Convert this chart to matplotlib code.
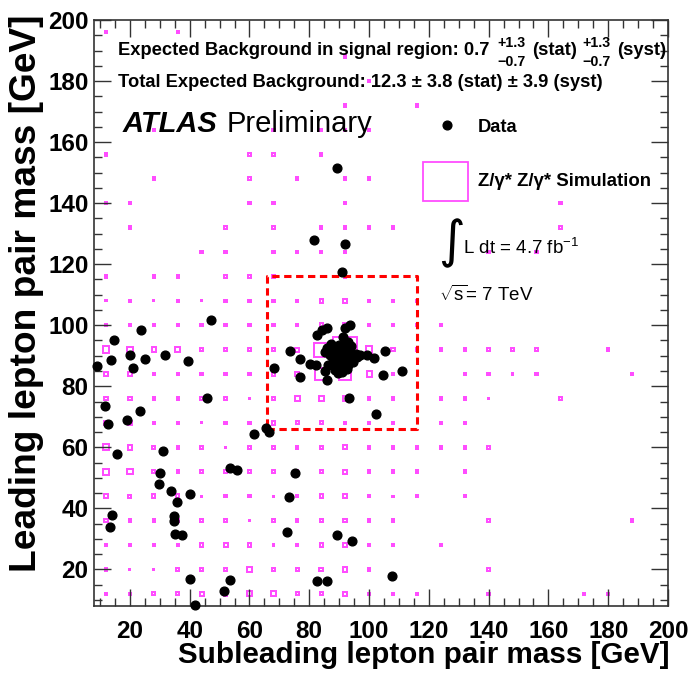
import numpy as np
import matplotlib
matplotlib.use("Agg")
import matplotlib.pyplot as plt
from matplotlib.patches import Rectangle
from matplotlib.ticker import MultipleLocator

plt.rcParams['font.family'] = ['Liberation Sans', 'DejaVu Sans']
plt.rcParams['mathtext.fontset'] = 'custom'
plt.rcParams['mathtext.rm'] = 'Liberation Sans'
plt.rcParams['mathtext.bf'] = 'Liberation Sans:bold'
plt.rcParams['mathtext.it'] = 'Liberation Sans:italic'

# simulation histogram: 8 GeV bins from 8 to 200 GeV on both axes
bin_edges = np.arange(8, 201, 8)
bin_centres = (bin_edges[:-1] + bin_edges[1:]) / 2

# Z/gamma* Z/gamma* simulation, relative bin content (rows: leading mass 196 -> 12 GeV)
sim_counts = [
    [10, 0, 0, 10, 0, 0, 0, 0, 0, 0, 0, 0, 0, 0, 0, 0, 0, 0, 0, 0, 0, 0, 0, 0],
    [0, 0, 0, 0, 0, 0, 0, 0, 0, 0, 10, 0, 0, 0, 0, 0, 0, 0, 0, 0, 0, 0, 0, 0],
    [0, 0, 0, 0, 0, 0, 0, 0, 0, 0, 0, 10, 0, 0, 0, 0, 0, 0, 0, 0, 0, 0, 0, 0],
    [0, 0, 0, 0, 0, 0, 0, 0, 0, 0, 10, 0, 0, 10, 0, 0, 0, 0, 0, 0, 0, 0, 0, 0],
    [0, 0, 10, 0, 0, 0, 0, 10, 0, 10, 10, 10, 0, 0, 0, 0, 0, 0, 0, 0, 0, 0, 0, 0],
    [10, 0, 0, 0, 0, 0, 10, 10, 0, 10, 0, 0, 0, 0, 0, 0, 0, 0, 0, 0, 0, 0, 0, 0],
    [0, 0, 10, 0, 0, 0, 10, 0, 10, 0, 10, 10, 0, 0, 0, 0, 0, 0, 0, 0, 0, 0, 0, 0],
    [10, 10, 0, 0, 0, 0, 10, 10, 0, 0, 10, 0, 0, 0, 0, 0, 0, 0, 0, 10, 0, 0, 0, 0],
    [0, 10, 0, 0, 0, 10, 0, 10, 0, 10, 10, 10, 10, 0, 0, 0, 0, 0, 0, 10, 0, 0, 0, 0],
    [0, 0, 0, 0, 10, 10, 0, 10, 10, 10, 10, 0, 0, 0, 0, 0, 10, 0, 10, 0, 0, 0, 0, 0],
    [10, 0, 10, 10, 0, 10, 10, 10, 0, 0, 10, 0, 0, 0, 0, 0, 0, 0, 0, 0, 0, 0, 0, 0],
    [5, 10, 5, 10, 5, 10, 10, 10, 10, 14, 14, 10, 10, 10, 0, 0, 0, 0, 0, 0, 0, 0, 0, 0],
    [10, 10, 10, 10, 10, 10, 10, 10, 10, 14, 14, 10, 10, 10, 10, 0, 0, 0, 0, 0, 0, 0, 0, 0],
    [26, 22, 19, 19, 14, 10, 10, 14, 16, 57, 100, 28, 14, 10, 10, 10, 10, 10, 10, 0, 0, 10, 0, 0],
    [19, 14, 10, 10, 10, 10, 10, 14, 16, 48, 52, 21, 10, 0, 0, 10, 10, 5, 10, 0, 0, 0, 10, 0],
    [14, 14, 10, 10, 13, 10, 5, 14, 19, 22, 19, 10, 10, 0, 10, 10, 5, 0, 0, 10, 0, 0, 0, 0],
    [19, 19, 10, 10, 5, 10, 10, 14, 12, 12, 10, 10, 10, 0, 10, 10, 0, 0, 0, 0, 0, 0, 0, 0],
    [26, 19, 14, 10, 10, 5, 14, 14, 10, 14, 15, 10, 10, 10, 10, 10, 10, 0, 0, 0, 0, 0, 0, 0],
    [26, 22, 14, 10, 10, 10, 10, 13, 10, 13, 15, 10, 10, 10, 0, 10, 0, 0, 0, 0, 0, 0, 0, 0],
    [16, 13, 14, 14, 5, 10, 10, 5, 10, 14, 15, 10, 5, 10, 0, 10, 0, 0, 0, 0, 0, 0, 0, 0],
    [14, 10, 10, 13, 13, 10, 5, 10, 10, 13, 14, 10, 10, 0, 0, 0, 10, 0, 0, 0, 0, 0, 10, 0],
    [10, 10, 10, 10, 14, 17, 14, 5, 10, 13, 18, 10, 5, 0, 10, 0, 0, 0, 0, 0, 0, 0, 0, 0],
    [11, 5, 5, 12, 14, 15, 18, 13, 13, 15, 18, 10, 0, 0, 0, 0, 10, 0, 0, 0, 0, 0, 0, 0],
    [10, 10, 13, 13, 16, 16, 22, 20, 12, 13, 18, 10, 8, 8, 0, 0, 10, 0, 0, 0, 10, 10, 0, 0],
]

# data events (subleading, leading pair mass in GeV)
data_x = [9.1, 14.7, 23.7, 19.9, 13.7, 24.9, 31.6, 39.3, 21.2, 47.0, 45.9, 11.7, 23.4,
          19.1, 12.7, 61.4, 65.4, 66.7, 15.8, 31.0, 53.4, 55.9, 30.1, 29.8, 33.9, 40.2,
          35.6, 14.0, 13.2, 34.7, 34.6, 35.2, 37.6, 40.1, 53.6, 51.6, 41.8, 75.3, 73.3,
          72.4, 89.3, 94.3, 107.7, 82.7, 86.1, 89.3, 81.7, 91.9, 90.9,
          68.3, 73.4, 77.0, 80.3, 82.3, 77.0, 85.9, 105.3, 101.7, 104.8, 111.1, 93.3,
          102.3, 82.6, 84.2, 86.1, 92.0, 93.7, 91.4, 97.0, 99.2,
          86.0, 85.3, 87.0, 86.4, 85.3, 89.8, 92.0, 93.1, 94.2, 94.8, 88.7, 90.9, 92.6,
          88.5, 89.5, 90.5, 91.2, 92.3, 93.5, 90.0, 88.0, 91.8, 89.2, 92.8, 90.3, 87.8,
          93.8, 91.0, 89.0, 90.8, 94.0, 95.5, 96.0, 87.2, 88.2, 92.0, 90.1, 93.0, 91.5,
          89.5]
data_y = [86.7, 95.3, 98.5, 90.3, 88.7, 89.0, 90.4, 88.3, 85.9, 101.7, 76.2, 73.4, 71.8,
          69.1, 67.7, 64.2, 66.4, 64.9, 57.7, 58.9, 53.3, 52.5, 51.5, 48.1, 45.6, 44.8,
          42.1, 37.8, 33.9, 37.5, 35.8, 31.7, 31.3, 17.0, 16.6, 13.0, 8.2, 51.5, 43.6,
          32.4, 31.3, 29.3, 17.7, 16.1, 16.1, 151.4, 127.8, 126.5, 117.5,
          86.0, 91.4, 89.0, 87.3, 87.1, 83.1, 82.2, 91.5, 89.3, 83.8, 84.9, 76.2,
          71.0, 96.9, 98.3, 99.0, 99.0, 100.1, 96.1, 90.1, 90.1,
          92.5, 91.2, 90.1, 86.9, 84.9, 93.4, 93.9, 92.8, 90.1, 88.0, 85.2, 84.7, 85.8,
          91.5, 89.0, 90.5, 88.2, 89.6, 91.0, 87.0, 88.3, 91.7, 92.3, 87.0, 86.0, 89.6,
          89.0, 89.5, 90.5, 92.8, 93.2, 90.5, 89.6, 93.8, 87.0, 91.0, 88.6, 94.5, 86.8,
          84.3]

# signal region corners
signal_lo, signal_hi = 66, 116

W, H = 692, 674
fig = plt.figure(figsize=(W / 100, H / 100), dpi=100)
ax = fig.add_axes([94 / W, 1 - 606 / H, 574 / W, 586 / H])

pink = '#ff4dff'
max_count = max(max(r) for r in sim_counts)
bin_w = bin_edges[1] - bin_edges[0]
for row, yc in zip(sim_counts, bin_centres[::-1]):
    for c, xc in zip(row, bin_centres):
        if c <= 0:
            continue
        side = bin_w * c / max_count
        ax.add_patch(Rectangle((xc - side / 2, yc - side / 2), side, side,
                               fill=False, edgecolor=pink, linewidth=1.2,
                               antialiased=False))

ax.plot(data_x, data_y, 'o', color='black', markersize=6.3, clip_on=False, zorder=5)

# signal region box
ax.plot([signal_lo, signal_hi, signal_hi, signal_lo, signal_lo],
        [signal_lo, signal_lo, signal_hi, signal_hi, signal_lo],
        color='red', linewidth=2.2, linestyle=(0, (2.4, 1.5)), zorder=4)

ax.set_xlim(8, 200)
ax.set_ylim(8, 200)
ax.xaxis.set_major_locator(MultipleLocator(20))
ax.yaxis.set_major_locator(MultipleLocator(20))
ax.xaxis.set_minor_locator(MultipleLocator(5))
ax.yaxis.set_minor_locator(MultipleLocator(5))
ax.tick_params(which='both', direction='in', top=True, right=True, color='#333333')
ax.tick_params(which='major', length=12, width=1.0, labelsize=17.5)
ax.tick_params(which='minor', length=6, width=1.0)
ax.tick_params(axis='x', pad=10)
ax.tick_params(axis='y', pad=4)
for lab in ax.get_xticklabels() + ax.get_yticklabels():
    lab.set_fontweight('bold')
for sp in ax.spines.values():
    sp.set_linewidth(1.2)
    sp.set_color('#333333')


def fx(px):
    return px / W


def fy(py):
    return 1 - py / H


fig.text(fx(669), fy(655), 'Subleading lepton pair mass [GeV]', ha='right', va='center',
         fontsize=21.3, fontweight='bold')
fig.text(fx(27), fy(14), 'Leading lepton pair mass [GeV]', ha='center', va='top',
         rotation=90, fontsize=26.7, fontweight='bold')

# expected background lines
bold = dict(ha='left', va='baseline', fontweight='bold')
fig.text(fx(118), fy(55), 'Expected Background in signal region: 0.7', fontsize=13.2, **bold)
fig.text(fx(497), fy(46.7), '+1.3', fontsize=10.3, **bold)
fig.text(fx(497), fy(66), '\u22120.7', fontsize=10.3, **bold)
fig.text(fx(532), fy(55), '(stat)', fontsize=13.2, **bold)
fig.text(fx(582), fy(46.7), '+1.3', fontsize=10.3, **bold)
fig.text(fx(582), fy(66), '\u22120.7', fontsize=10.3, **bold)
fig.text(fx(617), fy(55), '(syst)', fontsize=13.2, **bold)
fig.text(fx(118), fy(86.7), 'Total Expected Background: 12.3 \u00b1 3.8 (stat) \u00b1 3.9 (syst)',
         fontsize=13.2, **bold)

fig.text(fx(123), fy(132.3), 'ATLAS', ha='left', va='baseline', fontsize=21,
         fontweight='bold', fontstyle='italic')
fig.text(fx(227), fy(132.3), 'Preliminary', ha='left', va='baseline', fontsize=21)

# legend
ax.plot([fx(446.7)], [fy(125.3)], 'o', color='black', markersize=6.3,
        transform=fig.transFigure, clip_on=False)
fig.text(fx(478), fy(131.7), 'Data', fontsize=13.2, **bold)
fig.patches.append(Rectangle((fx(423.3), fy(200.7)), fx(45), 39 / H, fill=False,
                             edgecolor=pink, linewidth=1.3, transform=fig.transFigure,
                             figure=fig))
fig.text(fx(478), fy(186), 'Z/\u03b3* Z/\u03b3* Simulation', fontsize=13.4, **bold)

fig.text(fx(451), fy(243), '\u222b', ha='center', va='center', fontsize=37,
         family='DejaVu Sans')
fig.text(fx(463), fy(254), r'L dt = 4.7 fb$^{-1}$', ha='left', va='baseline', fontsize=13.5)
fig.text(fx(439), fy(300.7), r'$\sqrt{\mathrm{s}}$= 7 TeV', ha='left', va='baseline',
         fontsize=13.5)

fig.savefig('out.png', dpi=100)
